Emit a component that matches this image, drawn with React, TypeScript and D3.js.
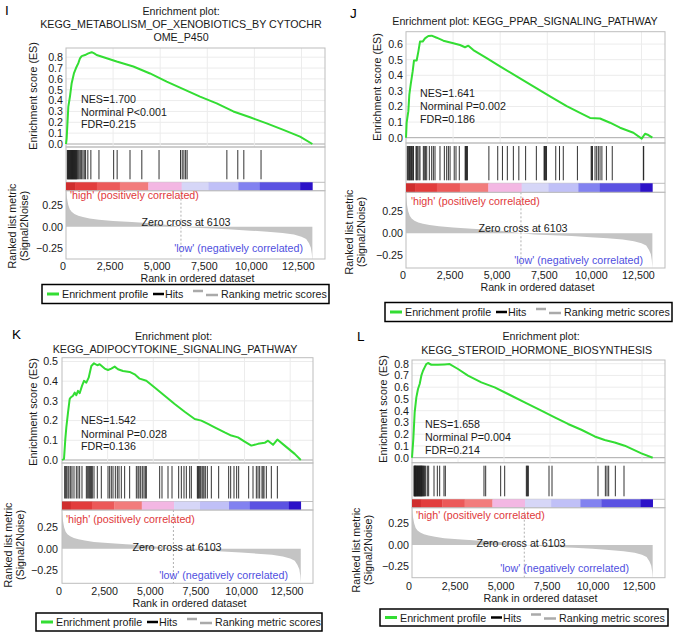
import React from "react";
import * as d3 from "d3";

const FONT = "'Liberation Sans', Arial, Helvetica, sans-serif";
const FS = 10.7;

// ---------------- shared data ----------------
const rankMax = 13750;
const zeroCrossRank = 6103;
const rankTicks = [0, 2500, 5000, 7500, 10000, 12500];
const metricTicks = [0.25, 0, -0.25];
const metricRanks = [0, 20, 50, 120, 200, 300, 450, 650, 900, 1250, 1750, 2500, 3500, 4500, 5400, 6103, 6800, 7800, 8800, 9800, 10700, 11500, 12100, 12500, 12750, 12900, 13000, 13050, 13080];
const metricValues = [0.45, 0.4, 0.33, 0.25, 0.2, 0.17, 0.145, 0.125, 0.11, 0.095, 0.08, 0.066, 0.053, 0.04, 0.02, 0, -0.013, -0.022, -0.032, -0.045, -0.058, -0.072, -0.09, -0.115, -0.14, -0.19, -0.24, -0.31, -0.4];
const colorBarBreaks = [0, 480, 1640, 2860, 4370, 6140, 7560, 9150, 10290, 12430, 13080];
const colorBarColors = ["#cf2e2e", "#e23d3d", "#ec5959", "#f27c7c", "#f3b7e3", "#d6d6f7", "#c0c0f7", "#8282f0", "#5b52e2", "#2c12c8"];
const legendLabels = ["Enrichment profile", "Hits", "Ranking metric scores"];
const highLabel = "'high' (positively correlated)";
const lowLabel = "'low' (negatively correlated)";
const zeroLabel = "Zero cross at 6103";
const xAxisTitle = "Rank in ordered dataset";
const esAxisTitle = "Enrichment score (ES)";
const metricAxisTitle = ["Ranked list metric", "(Signal2Noise)"];

// ---------------- panel I ----------------
const letterI = "I";
const titleI = ["Enrichment plot:", "KEGG_METABOLISM_OF_XENOBIOTICS_BY CYTOCHR", "OME_P450"];
const statsI = ["NES=1.700", "Norminal P<0.001", "FDR=0.215"];
const esTicksI = [0, 0.1, 0.2, 0.3, 0.4, 0.5, 0.6, 0.7, 0.8];
const esRanksI = [0, 35, 124, 212, 301, 420, 531, 655, 743, 832, 1009, 1186, 1363, 1500, 1628, 2159, 2690, 3575, 4460, 5345, 6230, 7115, 8000, 8885, 9770, 10655, 11540, 12425, 13080];
const esValuesI = [0, 0.05, 0.345, 0.44, 0.56, 0.65, 0.7, 0.745, 0.79, 0.81, 0.82, 0.835, 0.846, 0.835, 0.82, 0.79, 0.76, 0.714, 0.65, 0.575, 0.505, 0.437, 0.375, 0.3, 0.246, 0.19, 0.13, 0.068, 0];
const hitsI = [70, 95, 120, 145, 170, 195, 220, 245, 270, 295, 320, 345, 370, 395, 420, 445, 470, 495, 520, 545, 570, 600, 650, 700, 760, 830, 900, 970, 1040, 1160, 1320, 1750, 2530, 2715, 3398, 4025, 4939, 6080, 6170, 6260, 6350, 6430, 8540, 9120, 9440, 10354];

// ---------------- panel J ----------------
const letterJ = "J";
const titleJ = ["Enrichment plot: KEGG_PPAR_SIGNALING_PATHWAY"];
const statsJ = ["NES=1.641", "Norminal P=0.002", "FDR=0.186"];
const esTicksJ = [0, 0.1, 0.2, 0.3, 0.4, 0.5, 0.6];
const esRanksJ = [0, 35, 124, 177, 248, 354, 425, 566, 655, 743, 885, 1009, 1186, 1363, 1628, 1983, 2513, 2867, 3133, 3310, 3575, 4283, 4991, 5876, 6761, 7646, 8531, 9239, 9770, 10301, 10832, 11363, 12071, 12513, 12690, 12867, 13080];
const esValuesJ = [0, 0.096, 0.17, 0.276, 0.34, 0.425, 0.495, 0.495, 0.552, 0.616, 0.616, 0.637, 0.652, 0.654, 0.641, 0.622, 0.605, 0.594, 0.58, 0.59, 0.562, 0.51, 0.457, 0.393, 0.329, 0.265, 0.202, 0.159, 0.127, 0.123, 0.096, 0.064, 0.032, -0.006, 0.025, 0.017, 0];
const hitsJ = [71, 110, 150, 177, 212, 250, 290, 330, 370, 400, 531, 566, 620, 690, 743, 920, 973, 1040, 1100, 1239, 1363, 1452, 1540, 1805, 2036, 2160, 2250, 2340, 2560, 2655, 2830, 3140, 3170, 3200, 3230, 3260, 4400, 4870, 5120, 5380, 5700, 5990, 6350, 6920, 7330, 7360, 7390, 7420, 7460, 7950, 8150, 8350, 9100, 9830, 9860, 9900, 10035, 10124, 10212, 10301, 10400, 10640, 10950, 12600, 12620];

// ---------------- panel K ----------------
const letterK = "K";
const titleK = ["Enrichment plot:", "KEGG_ADIPOCYTOKINE_SIGNALING_PATHWAY"];
const statsK = ["NES=1.542", "Norminal P=0.028", "FDR=0.136"];
const esTicksK = [0, 0.1, 0.2, 0.3, 0.4, 0.5];
const esRanksK = [0, 110, 183, 237, 329, 420, 475, 602, 694, 785, 876, 968, 1095, 1205, 1333, 1461, 1607, 1753, 1935, 2063, 2337, 2520, 2702, 2885, 3067, 3341, 3706, 3980, 4254, 4620, 5076, 5624, 6172, 6720, 7268, 7633, 7998, 8363, 8911, 9276, 9642, 10007, 10372, 10738, 11103, 11286, 11560, 11797, 12199, 12747, 13080];
const esValuesK = [0, 0.006, 0.107, 0.166, 0.241, 0.309, 0.317, 0.326, 0.342, 0.329, 0.351, 0.339, 0.376, 0.402, 0.393, 0.418, 0.477, 0.491, 0.481, 0.486, 0.464, 0.457, 0.464, 0.474, 0.461, 0.452, 0.447, 0.435, 0.413, 0.402, 0.368, 0.326, 0.284, 0.245, 0.208, 0.2, 0.183, 0.166, 0.14, 0.124, 0.115, 0.093, 0.073, 0.082, 0.087, 0.098, 0.077, 0.104, 0.073, 0.031, 0];
const hitsK = [146, 201, 256, 329, 383, 475, 548, 657, 785, 876, 968, 1095, 1333, 1388, 1461, 1515, 1571, 1607, 1662, 1753, 1935, 2154, 2520, 2611, 2702, 2794, 2922, 3031, 3122, 3250, 3432, 3706, 4072, 4163, 4218, 4310, 4400, 4492, 4565, 4620, 5350, 5478, 5807, 6026, 6391, 6537, 6683, 6811, 6994, 7085, 7414, 7450, 7487, 7541, 7596, 7670, 7724, 7779, 7852, 7962, 8181, 8582, 9130, 9240, 9422, 9568, 9678, 10226, 10464, 10646, 10738, 10829, 10957, 11012, 11066, 11194, 11468, 11797];

// ---------------- panel L ----------------
const letterL = "L";
const titleL = ["Enrichment plot:", "KEGG_STEROID_HORMONE_BIOSYNTHESIS"];
const statsL = ["NES=1.658", "Norminal P=0.004", "FDR=0.214"];
const esTicksL = [0, 0.1, 0.2, 0.3, 0.4, 0.5, 0.6, 0.7, 0.8];
const esRanksL = [0, 72, 145, 236, 326, 417, 507, 598, 688, 779, 870, 1051, 1413, 1775, 2047, 2500, 3044, 3768, 4493, 5218, 6124, 7030, 7755, 8479, 9204, 9929, 10472, 11016, 11560, 12466, 13080];
const esValuesL = [0, 0.159, 0.386, 0.513, 0.585, 0.627, 0.698, 0.74, 0.769, 0.797, 0.806, 0.791, 0.791, 0.794, 0.797, 0.755, 0.698, 0.641, 0.598, 0.542, 0.471, 0.4, 0.343, 0.287, 0.238, 0.181, 0.151, 0.13, 0.102, 0.037, 0];
const hitsL = [109, 130, 150, 170, 190, 210, 230, 254, 275, 300, 326, 350, 375, 399, 420, 445, 471, 490, 507, 530, 560, 590, 616, 652, 688, 743, 833, 906, 1196, 1377, 1504, 1739, 1812, 3913, 4004, 4819, 5037, 6214, 6250, 6287, 6323, 7446, 7609, 10109, 10508, 10598, 10689, 11051, 11522];

const panelsData = [
  { letter: letterI, title: titleI, stats: statsI, esTicks: esTicksI, esRanks: esRanksI, esValues: esValuesI, hits: hitsI },
  { letter: letterJ, title: titleJ, stats: statsJ, esTicks: esTicksJ, esRanks: esRanksJ, esValues: esValuesJ, hits: hitsJ },
  { letter: letterK, title: titleK, stats: statsK, esTicks: esTicksK, esRanks: esRanksK, esValues: esValuesK, hits: hitsK },
  { letter: letterL, title: titleL, stats: statsL, esTicks: esTicksL, esRanks: esRanksL, esValues: esValuesL, hits: hitsL },
];

// ---------------- layout (pixels) ----------------
const layouts = [
  {
    letterX: 5, letterY: 15.3, titleX: [181, 181, 181], titleY: [15, 28.3, 40.7],
    left: 66, right: 325, esTop: 48, esBottom: 147, es0: 144, esUnit: 108.5,
    hitsTop: 150, hitsBottom: 179.3, cbTop: 182.3, cbBottom: 190.7, metBottom: 259, met0: 226.7, metUnit: 87.3,
    statsX: 81, statsY: [102.7, 115.5, 128.3], esTitleX: 37, esTitleY: 96, metTitleX: [16, 28.2], metTitleY: 226,
    tickRight: 63, highX: 70, highY: 199, zeroX: 186, zeroY: 226, lowRight: 303, lowY: 252,
    xTickY: 270.2, xTitleY: 282.4, legX: 42, legY: 284.5, legW: 287, legH: 19,
  },
  {
    letterX: 350, letterY: 18.3, titleX: [525], titleY: [25],
    left: 406, right: 665, esTop: 31.7, esBottom: 143, es0: 137.7, esUnit: 156,
    hitsTop: 146, hitsBottom: 180.3, cbTop: 183.3, cbBottom: 192.3, metBottom: 268, met0: 233.3, metUnit: 87.3,
    statsX: 420, statsY: [96.7, 110, 122.7], esTitleX: 381, esTitleY: 87, metTitleX: [352.5, 364.7], metTitleY: 232,
    tickRight: 403, highX: 411, highY: 205, zeroX: 523, zeroY: 231.7, lowRight: 643, lowY: 264,
    xTickY: 278.6, xTitleY: 290.8, legX: 385, legY: 302.5, legW: 287, legH: 19,
  },
  {
    letterX: 12, letterY: 339.3, titleX: [173.5, 175], titleY: [340, 352.7],
    left: 62, right: 313, esTop: 357.7, esBottom: 463, es0: 460, esUnit: 197,
    hitsTop: 466, hitsBottom: 498.5, cbTop: 501.5, cbBottom: 510, metBottom: 583.3, met0: 548.7, metUnit: 85.3,
    statsX: 81, statsY: [424.3, 437.5, 450.3], esTitleX: 37, esTitleY: 412, metTitleX: [12, 24.2], metTitleY: 545,
    tickRight: 58, highX: 66, highY: 522.7, zeroX: 177, zeroY: 550.7, lowRight: 288, lowY: 579,
    xTickY: 595.2, xTitleY: 607.4, legX: 36, legY: 613, legW: 286, legH: 18,
  },
  {
    letterX: 357, letterY: 341, titleX: [541, 536.7], titleY: [340, 354],
    left: 412, right: 665, esTop: 360, esBottom: 462.7, es0: 457.7, esUnit: 117.5,
    hitsTop: 465.7, hitsBottom: 496.3, cbTop: 499.3, cbBottom: 507.7, metBottom: 577.7, met0: 545, metUnit: 85.6,
    statsX: 425, statsY: [428.3, 441.3, 454], esTitleX: 387, esTitleY: 409, metTitleX: [360, 372.2], metTitleY: 550,
    tickRight: 409, highX: 416, highY: 519.3, zeroX: 521, zeroY: 546.7, lowRight: 629, lowY: 571.7,
    xTickY: 590, xTitleY: 602.2, legX: 380, legY: 609, legW: 288, legH: 17,
  },
];

const fmtEs = d3.format(".1f");
const fmtMet = d3.format(".2f");
const fmtRank = d3.format(",");
const BORDER = "#bdbdbd";
const GRID = "#ececec";

function Panel({ data, lay }: { data: any; lay: any }) {
  const x = d3.scaleLinear().domain([0, rankMax]).range([lay.left, lay.right]);
  const yEs = d3.scaleLinear().domain([0, 1]).range([lay.es0, lay.es0 - lay.esUnit]);
  const yMet = d3.scaleLinear().domain([0, 1]).range([lay.met0, lay.met0 - lay.metUnit]);
  const esPath = d3
    .line<number>()
    .x((_, i) => x(data.esRanks[i]))
    .y((v) => yEs(v))(data.esValues) as string;
  const metPath = d3
    .area<number>()
    .x((_, i) => x(metricRanks[i]))
    .y0(yMet(0))
    .y1((v) => yMet(v))(metricValues) as string;
  const clipId = "clip-" + data.letter;
  const w = lay.right - lay.left;
  const metTop = lay.cbBottom;
  const legMid = lay.legY + lay.legH / 2;
  const txt = { fontFamily: FONT, fontSize: FS, fill: "#1a1a1a" } as any;

  return (
    <g>
      <defs>
        <clipPath id={clipId}>
          <rect x={lay.left} y={metTop} width={w} height={lay.metBottom - metTop} />
        </clipPath>
      </defs>
      <text x={lay.letterX} y={lay.letterY} style={{ ...txt, fontSize: 13.5, fill: "#000" }}>{data.letter}</text>
      {data.title.map((t: string, i: number) => (
        <text key={"t" + i} x={lay.titleX[i]} y={lay.titleY[i]} textAnchor="middle" style={txt}>{t}</text>
      ))}

      {/* ES panel */}
      {data.esTicks.map((t: number) => (
        <line key={"gh" + t} x1={lay.left} x2={lay.right} y1={yEs(t)} y2={yEs(t)} stroke={t === 0 ? "#a8a8a8" : GRID} strokeWidth={1} />
      ))}
      {rankTicks.filter((t) => t > 0).map((t) => (
        <line key={"gv" + t} x1={x(t)} x2={x(t)} y1={lay.esTop} y2={lay.esBottom} stroke={GRID} strokeWidth={1} />
      ))}
      <rect x={lay.left} y={lay.esTop} width={w} height={lay.esBottom - lay.esTop} fill="none" stroke={BORDER} strokeWidth={1} />
      <path d={esPath} fill="none" stroke="#33dd33" strokeWidth={2} strokeLinejoin="round" />
      {data.esTicks.map((t: number) => (
        <text key={"et" + t} x={lay.tickRight} y={yEs(t) + 3.8} textAnchor="end" style={txt}>{fmtEs(t)}</text>
      ))}
      {data.stats.map((s: string, i: number) => (
        <text key={"s" + i} x={lay.statsX} y={lay.statsY[i]} style={txt}>{s}</text>
      ))}

      {/* hits + color bar */}
      <rect x={lay.left} y={lay.esBottom} width={w} height={lay.cbBottom - lay.esBottom} fill="none" stroke={BORDER} strokeWidth={1} />
      {data.hits.map((h: number, i: number) => (
        <line key={"h" + i} x1={x(h)} x2={x(h)} y1={lay.hitsTop} y2={lay.hitsBottom} stroke="#1c1c1c" strokeWidth={0.9} />
      ))}
      <line x1={lay.left} x2={lay.right} y1={lay.cbTop} y2={lay.cbTop} stroke={BORDER} strokeWidth={1} />
      {colorBarColors.map((c, i) => (
        <rect key={"cb" + i} x={x(colorBarBreaks[i])} y={lay.cbTop} width={x(colorBarBreaks[i + 1]) - x(colorBarBreaks[i]) + 0.3} height={lay.cbBottom - lay.cbTop} fill={c} />
      ))}

      {/* metric panel */}
      <path d={metPath} fill="#c4c4c4" clipPath={`url(#${clipId})`} />
      <line x1={x(zeroCrossRank)} x2={x(zeroCrossRank)} y1={metTop} y2={lay.metBottom} stroke="#b0b0b0" strokeWidth={1} strokeDasharray="2,2" />
      <rect x={lay.left} y={metTop} width={w} height={lay.metBottom - metTop} fill="none" stroke={BORDER} strokeWidth={1} />
      {metricTicks.map((t) => (
        <text key={"mt" + t} x={lay.tickRight} y={yMet(t) + 3.8} textAnchor="end" style={txt}>{fmtMet(t)}</text>
      ))}
      <text x={lay.highX} y={lay.highY} style={{ ...txt, fill: "#e0393b" }}>{highLabel}</text>
      <text x={lay.zeroX} y={lay.zeroY} textAnchor="middle" style={txt}>{zeroLabel}</text>
      <text x={lay.lowRight} y={lay.lowY} textAnchor="end" style={{ ...txt, fill: "#4f4fe0" }}>{lowLabel}</text>

      {/* x axis */}
      {rankTicks.map((t) => (
        <text key={"xt" + t} x={x(t) - 3} y={lay.xTickY} textAnchor="middle" style={txt}>{fmtRank(t)}</text>
      ))}
      <text x={(lay.left + lay.right) / 2 + 2} y={lay.xTitleY} textAnchor="middle" style={txt}>{xAxisTitle}</text>

      {/* y titles */}
      <text transform={`translate(${lay.esTitleX},${lay.esTitleY}) rotate(-90)`} textAnchor="middle" style={txt}>{esAxisTitle}</text>
      {metricAxisTitle.map((t, i) => (
        <text key={"my" + i} transform={`translate(${lay.metTitleX[i]},${lay.metTitleY}) rotate(-90)`} textAnchor="middle" style={txt}>{t}</text>
      ))}

      {/* legend */}
      <rect x={lay.legX} y={lay.legY} width={lay.legW} height={lay.legH} fill="#fff" stroke="#000" strokeWidth={1.5} />
      <line x1={lay.legX + 5} x2={lay.legX + 17} y1={legMid} y2={legMid} stroke="#33dd33" strokeWidth={3} />
      <text x={lay.legX + 20} y={legMid + 4} style={txt}>{legendLabels[0]}</text>
      <line x1={lay.legX + 111} x2={lay.legX + 122} y1={legMid} y2={legMid} stroke="#000" strokeWidth={2.5} />
      <text x={lay.legX + 123} y={legMid + 4} style={txt}>{legendLabels[1]}</text>
      <line x1={lay.legX + 151} x2={lay.legX + 161} y1={legMid - 3} y2={legMid - 3} stroke="#aaaaaa" strokeWidth={2.5} />
      <line x1={lay.legX + 164} x2={lay.legX + 176} y1={legMid + 1} y2={legMid + 1} stroke="#aaaaaa" strokeWidth={2.5} />
      <text x={lay.legX + 179} y={legMid + 4} style={txt}>{legendLabels[2]}</text>
    </g>
  );
}

export default function App() {
  return (
    <svg width={677} height={635} style={{ position: "absolute", left: 0, top: 0, background: "#fff" }}>
      <rect x={0} y={0} width={677} height={635} fill="#fff" />
      {panelsData.map((d, i) => (
        <Panel key={d.letter} data={d} lay={layouts[i]} />
      ))}
    </svg>
  );
}
